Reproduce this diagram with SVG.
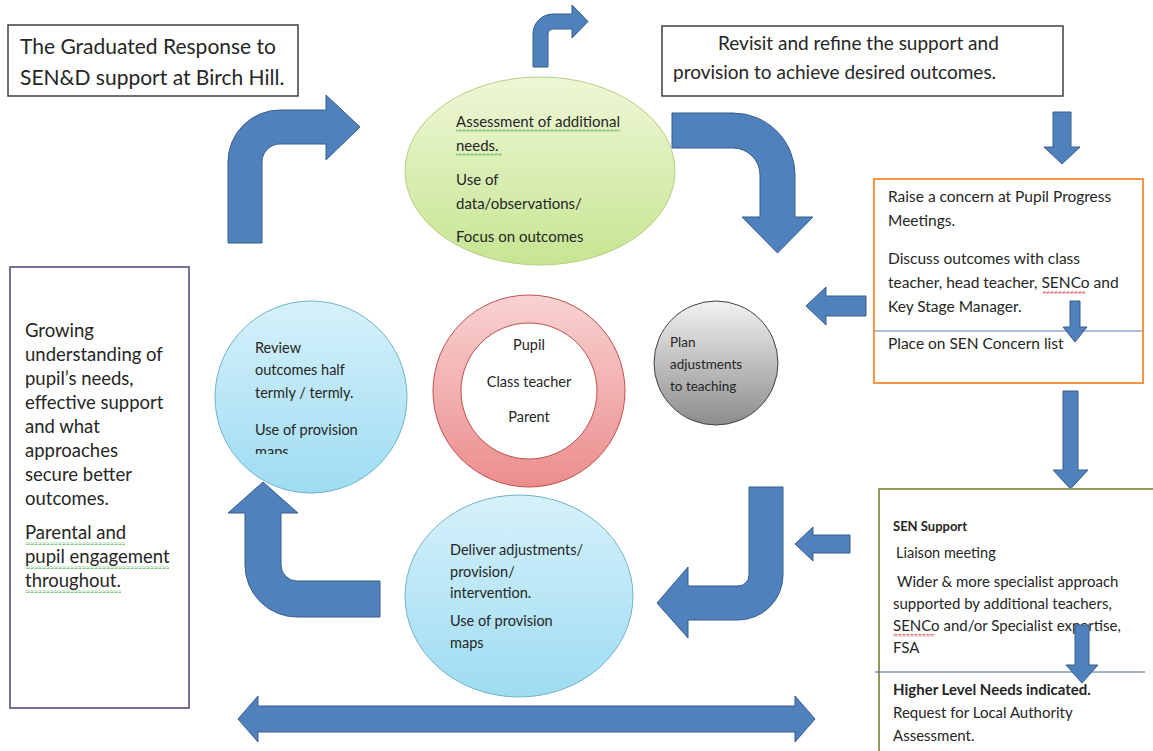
<svg xmlns="http://www.w3.org/2000/svg" width="1153" height="751" viewBox="0 0 1153 751">
<style>
text{font-family:Lato,"Liberation Sans",sans-serif;fill:#262626}
.t20{font-size:21px}
.t17{font-size:19px}
.t18{font-size:18.5px}
.t15{font-size:15.5px}
.t14{font-size:15px}
.t13{font-size:14.5px}
.b{font-weight:bold}
.arrow{fill:#4f81bd;stroke:#385d8a;stroke-width:1}
.box{fill:#fff}
.sqg{fill:url(#sqGreen)}
.sqr{fill:url(#sqRed)}
</style>
<defs>
<linearGradient id="gGreen" x1="0" y1="0" x2="0" y2="1"><stop offset="0" stop-color="#eef7d6"/><stop offset="1" stop-color="#c6e592"/></linearGradient>
<linearGradient id="gBlue" x1="0" y1="0" x2="0" y2="1"><stop offset="0" stop-color="#d6f1fb"/><stop offset="1" stop-color="#9edcf2"/></linearGradient>
<linearGradient id="gPink" x1="0" y1="0" x2="0" y2="1"><stop offset="0" stop-color="#f8d2d2"/><stop offset="1" stop-color="#ec8d8d"/></linearGradient>
<linearGradient id="gGray" x1="0" y1="0" x2="0" y2="1"><stop offset="0" stop-color="#f2f2f2"/><stop offset="1" stop-color="#8c8c8c"/></linearGradient>
<pattern id="sqGreen" width="4" height="3" patternUnits="userSpaceOnUse"><path d="M0,2.5 L1,0.5 L3,2.5 L4,0.5" stroke="#5cb85c" stroke-width="0.8" fill="none"/></pattern>
<pattern id="sqRed" width="4" height="3" patternUnits="userSpaceOnUse"><path d="M0,2.5 L1,0.5 L3,2.5 L4,0.5" stroke="#e04040" stroke-width="0.8" fill="none"/></pattern>
<clipPath id="clipReview"><rect x="200" y="300" width="220" height="154"/></clipPath>
</defs>
<rect width="1153" height="751" fill="#fff"/>

<g id="connectors">
<path class="arrow" d="M533,67 L533,34 A20,20 0 0 1 553,14 L572,14 L572,5 L588,21.5 L572,38 L572,29 L553,29 A5,5 0 0 0 548,34 L548,67 Z"/>
<path class="arrow" d="M228,243 L228,162 A52,52 0 0 1 280,110 L326,110 L326,95 L360,127 L326,160 L326,144 L280,144 A18,18 0 0 0 262,162 L262,243 Z"/>
<path class="arrow" d="M672,113 L733,113 A62,62 0 0 1 795,175 L795,217 L813,217 L777.5,253 L742,217 L760,217 L760,175 A27,27 0 0 0 733,148 L672,148 Z"/>
<path class="arrow" d="M1053,112 L1071,112 L1071,147 L1080,147 L1062,164 L1044,147 L1053,147 Z"/>
<path class="arrow" d="M866,296 L826,296 L826,287 L806,306 L826,325 L826,316 L866,316 Z"/>
<path class="arrow" d="M1063,391 L1078,391 L1078,470 L1088,470 L1070.5,489 L1053,470 L1063,470 Z"/>
<path class="arrow" d="M850,535 L813,535 L813,527 L795,544 L813,561 L813,553 L850,553 Z"/>
<path class="arrow" d="M749,487 L783,487 L783,575 A45,45 0 0 1 738,620 L688,620 L688,638 L657,603 L688,567 L688,586 L738,586 A11,11 0 0 0 749,575 Z"/>
<path class="arrow" d="M263,482 L298,513 L281,513 L281,565 A16,16 0 0 0 297,581 L380,581 L380,617 L297,617 A52,52 0 0 1 245,565 L245,513 L228,513 Z"/>
<path class="arrow" d="M238,719 L258,696 L258,706 L795,706 L795,696 L815,719 L795,742 L795,732 L258,732 L258,742 Z"/>
</g>

<g id="title">
<rect class="box" x="8" y="25" width="290" height="71" stroke="#404040" stroke-width="1.5"/>
<text class="t20" x="20" y="54">The Graduated Response to</text>
<text class="t20" x="20" y="85">SEN&amp;D support at Birch Hill.</text>
</g>

<g id="revisit">
<rect class="box" x="662" y="26" width="401" height="70" stroke="#404040" stroke-width="1.5"/>
<text class="t17" x="718" y="50">Revisit and refine the support and</text>
<text class="t17" x="673" y="79">provision to achieve desired outcomes.</text>
</g>

<g id="assessment">
<ellipse cx="540" cy="171" rx="135" ry="94" fill="url(#gGreen)" stroke="#b5cf85" stroke-width="1"/>
<text class="t14" x="456" y="127">Assessment of additional</text>
<rect class="sqg" x="456" y="129" width="164" height="3"/>
<text class="t14" x="456" y="151">needs.</text>
<rect class="sqg" x="456" y="153" width="46" height="3"/>
<text class="t14" x="456" y="185">Use of</text>
<text class="t14" x="456" y="209">data/observations/</text>
<text class="t14" x="456" y="242">Focus on outcomes</text>
</g>

<g id="raise">
<rect class="box" x="874" y="179" width="269" height="204" stroke="#f79646" stroke-width="2"/>
<line x1="875" y1="331" x2="1142" y2="331" stroke="#5b84b1" stroke-width="1.2"/>
<text class="t15" x="888" y="202">Raise a concern at Pupil Progress</text>
<text class="t15" x="888" y="226">Meetings.</text>
<text class="t15" x="888" y="264">Discuss outcomes with class</text>
<text class="t15" x="888" y="288">teacher, head teacher, SENCo and</text>
<rect class="sqr" x="1043" y="291" width="42" height="3"/>
<text class="t15" x="888" y="312">Key Stage Manager.</text>
<text class="t15" x="888" y="349">Place on SEN Concern list</text>
<path class="arrow" d="M1070,301 L1080,301 L1080,327 L1087,327 L1075,342 L1063,327 L1070,327 Z"/>
</g>

<g id="plan">
<circle cx="716" cy="363" r="62" fill="url(#gGray)" stroke="#404040" stroke-width="1"/>
<text font-size="13.5" x="670" y="347">Plan</text>
<text font-size="13.5" x="670" y="369">adjustments</text>
<text font-size="13.5" x="670" y="391">to teaching</text>
</g>

<g id="pupil">
<circle cx="529" cy="391" r="96" fill="url(#gPink)" stroke="#c0504d" stroke-width="1"/>
<circle cx="529" cy="391" r="68" fill="#fff" stroke="#c0504d" stroke-width="1"/>
<text class="t13" x="529" y="350" text-anchor="middle">Pupil</text>
<text class="t13" x="529" y="387" text-anchor="middle">Class teacher</text>
<text class="t13" x="529" y="422" text-anchor="middle">Parent</text>
</g>

<g id="review">
<circle cx="311" cy="397" r="96" fill="url(#gBlue)" stroke="#6fb3c9" stroke-width="1"/>
<g clip-path="url(#clipReview)">
<text class="t13" x="255" y="353">Review</text>
<text class="t13" x="255" y="375">outcomes half</text>
<text class="t13" x="255" y="398">termly / termly.</text>
<text class="t13" x="255" y="435">Use of provision</text>
<text class="t13" x="255" y="457">maps</text>
</g>
</g>

<g id="deliver">
<ellipse cx="519" cy="596" rx="114" ry="101" fill="url(#gBlue)" stroke="#6fb3c9" stroke-width="1"/>
<text class="t13" x="450" y="555">Deliver adjustments/</text>
<text class="t13" x="450" y="577">provision/</text>
<text class="t13" x="450" y="598">intervention.</text>
<text class="t13" x="450" y="626">Use of provision</text>
<text class="t13" x="450" y="648">maps</text>
</g>

<g id="growing">
<rect class="box" x="10" y="267" width="179" height="441" stroke="#7b6f9a" stroke-width="2"/>
<text class="t18" x="25" y="337">Growing</text>
<text class="t18" x="25" y="361">understanding of</text>
<text class="t18" x="25" y="385">pupil’s needs,</text>
<text class="t18" x="25" y="409">effective support</text>
<text class="t18" x="25" y="433">and what</text>
<text class="t18" x="25" y="457">approaches</text>
<text class="t18" x="25" y="481">secure better</text>
<text class="t18" x="25" y="505">outcomes.</text>
<text class="t18" x="25" y="539">Parental and</text>
<rect class="sqg" x="25" y="542" width="100" height="3"/>
<text class="t18" x="25" y="563">pupil engagement</text>
<rect class="sqg" x="25" y="566" width="144" height="3"/>
<text class="t18" x="25" y="587">throughout.</text>
<rect class="sqg" x="25" y="590" width="96" height="3"/>
</g>

<g id="sensupport">
<path d="M1153,489 L879,489 L879,751" fill="#fff" stroke="#8f9c5c" stroke-width="2"/>
<line x1="875" y1="672" x2="1145" y2="672" stroke="#4a6a8a" stroke-width="1.2"/>
<text x="893" y="531" font-size="13" class="b">SEN Support</text>
<text class="t13" x="896" y="558">Liaison meeting</text>
<text class="t14" x="897" y="587">Wider &amp; more specialist approach</text>
<text class="t14" x="893" y="609">supported by additional teachers,</text>
<text class="t14" x="893" y="631">SENCo and/or Specialist expertise,</text>
<rect class="sqr" x="893" y="634" width="42" height="3"/>
<text class="t14" x="893" y="653">FSA</text>
<text class="t14 b" x="893" y="695">Higher Level Needs indicated.</text>
<text class="t14" x="893" y="718">Request for Local Authority</text>
<text class="t14" x="893" y="741">Assessment.</text>
<path class="arrow" d="M1075,625 L1089,625 L1089,665 L1098,665 L1082,683 L1066,665 L1075,665 Z"/>
</g>
</svg>
